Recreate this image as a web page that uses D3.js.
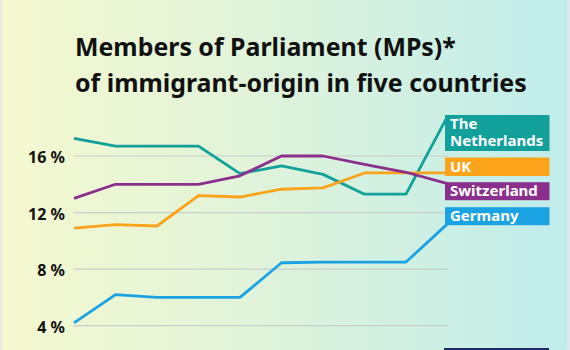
<!DOCTYPE html>
<html>
<head>
<meta charset="utf-8">
<script src="https://cdn.jsdelivr.net/npm/d3@7"></script>
<style>
  html, body { margin: 0; padding: 0; }
  body { width: 570px; height: 350px; overflow: hidden; }
  svg { display: block; }
</style>
</head>
<body>
<svg id="chart" width="570" height="350"></svg>
<script>
// Measurement points along the x axis (ten successive periods)
const periods = [1, 2, 3, 4, 5, 6, 7, 8, 9, 10];

// Share of MPs of immigrant origin, in percent
const netherlands = [17.25, 16.7, 16.7, 16.7, 14.75, 15.3, 14.7, 13.3, 13.3, 18.8];
const uk          = [10.9, 11.15, 11.05, 13.2, 13.1, 13.65, 13.75, 14.8, 14.8, 14.8];
const switzerland = [13.0, 14.0, 14.0, 14.0, 14.6, 16.0, 16.0, 15.4, 14.85, 14.05];
const germany     = [4.2, 6.2, 6.0, 6.0, 6.0, 8.45, 8.5, 8.5, 8.5, 11.2];

const yTicks = [4, 8, 12, 16];
const yTickLabels = ["4 %", "8 %", "12 %", "16 %"];

const seriesNames = ["The Netherlands", "UK", "Switzerland", "Germany"];
const seriesColors = ["#12a09a", "#fba31a", "#8b2f8c", "#1ba2e3"];

const titleLines = ["Members of Parliament (MPs)*", "of immigrant-origin in five countries"];

const series = [netherlands, uk, switzerland, germany].map((values, i) => ({
  name: seriesNames[i], color: seriesColors[i], values
}));

const svg = d3.select("#chart");
const W = 570, H = 350;

// Background: soft yellow-to-aqua wash
const defs = svg.append("defs");
const grad = defs.append("linearGradient").attr("id", "bg").attr("x1", 0).attr("x2", 1).attr("y1", 0).attr("y2", 0);
grad.append("stop").attr("offset", "0%").attr("stop-color", "#f5f9cf");
grad.append("stop").attr("offset", "45%").attr("stop-color", "#e0f3da");
grad.append("stop").attr("offset", "100%").attr("stop-color", "#bfeceb");
svg.append("rect").attr("width", W).attr("height", H).attr("fill", "url(#bg)");
svg.append("rect").attr("x", 0).attr("width", 2).attr("height", H).attr("fill", "#e9ebe2");
svg.append("rect").attr("x", 567).attr("width", 3).attr("height", H).attr("fill", "#dde8e8");

// Title: size the type so the longer line spans the intended width
const titleWidth = 452;
const title = svg.append("text")
  .attr("font-family", "'Noto Sans', sans-serif")
  .attr("font-weight", 700)
  .attr("font-size", 25)
  .attr("fill", "#111");
const titleSpans = title.selectAll("tspan").data(titleLines).join("tspan")
  .attr("x", 75)
  .attr("y", (d, i) => 56 + i * 35.5)
  .text(d => d);
const longest = d3.max(titleSpans.nodes(), n => n.getComputedTextLength());
if (longest > 0) title.attr("font-size", 25 * titleWidth / longest);

// Scales
const x = d3.scalePoint().domain(periods).range([74, 447.5]);
const y = d3.scaleLinear().domain([4, 16]).range([325.7, 156]);

// Gridlines
svg.append("g").selectAll("line").data(yTicks).join("line")
  .attr("x1", 74).attr("x2", 448)
  .attr("y1", d => y(d)).attr("y2", d => y(d))
  .attr("stroke", "#c9cfca").attr("stroke-width", 1.2);

// Y axis labels
const yAxis = d3.axisLeft(y)
  .tickValues(yTicks)
  .tickFormat((d, i) => yTickLabels[i])
  .tickSize(0)
  .tickPadding(0);
const gy = svg.append("g").attr("transform", "translate(65,0)").call(yAxis);
gy.select(".domain").remove();
gy.selectAll("text")
  .attr("font-family", "'Noto Sans', sans-serif")
  .attr("font-weight", 700)
  .attr("font-size", 16)
  .attr("fill", "#111")
  .attr("dy", "0.42em");

// Lines
const line = d3.line().x((d, i) => x(periods[i])).y(d => y(d));
svg.append("g").selectAll("path").data(series).join("path")
  .attr("d", d => line(d.values))
  .attr("fill", "none")
  .attr("stroke", d => d.color)
  .attr("stroke-width", 2.8)
  .attr("stroke-linejoin", "round");

// Legend boxes at the line ends
const boxes = [
  { lines: ["The", "Netherlands"], top: 115, height: 36 },
  { lines: ["UK"], top: 157.5, height: 18.5 },
  { lines: ["Switzerland"], top: 182.2, height: 18 },
  { lines: ["Germany"], top: 207.2, height: 18 }
];
const legend = svg.append("g").selectAll("g").data(series).join("g");
legend.append("rect")
  .attr("x", 445).attr("width", 104.5)
  .attr("y", (d, i) => boxes[i].top)
  .attr("height", (d, i) => boxes[i].height)
  .attr("fill", d => d.color);
legend.append("text")
  .attr("font-family", "'Noto Sans', sans-serif")
  .attr("font-weight", 700)
  .attr("font-size", 15)
  .attr("fill", "#fff")
  .each(function (d, i) {
    d3.select(this).selectAll("tspan").data(boxes[i].lines).join("tspan")
      .attr("x", 450)
      .attr("y", (t, j) => boxes[i].top + 14 + j * 16.5)
      .text(t => t);
  });

// Footer tab peeking in at the bottom edge
svg.append("rect").attr("x", 444).attr("y", 348).attr("width", 105).attr("height", 2).attr("fill", "#1f2a6b");
</script>
</body>
</html>
